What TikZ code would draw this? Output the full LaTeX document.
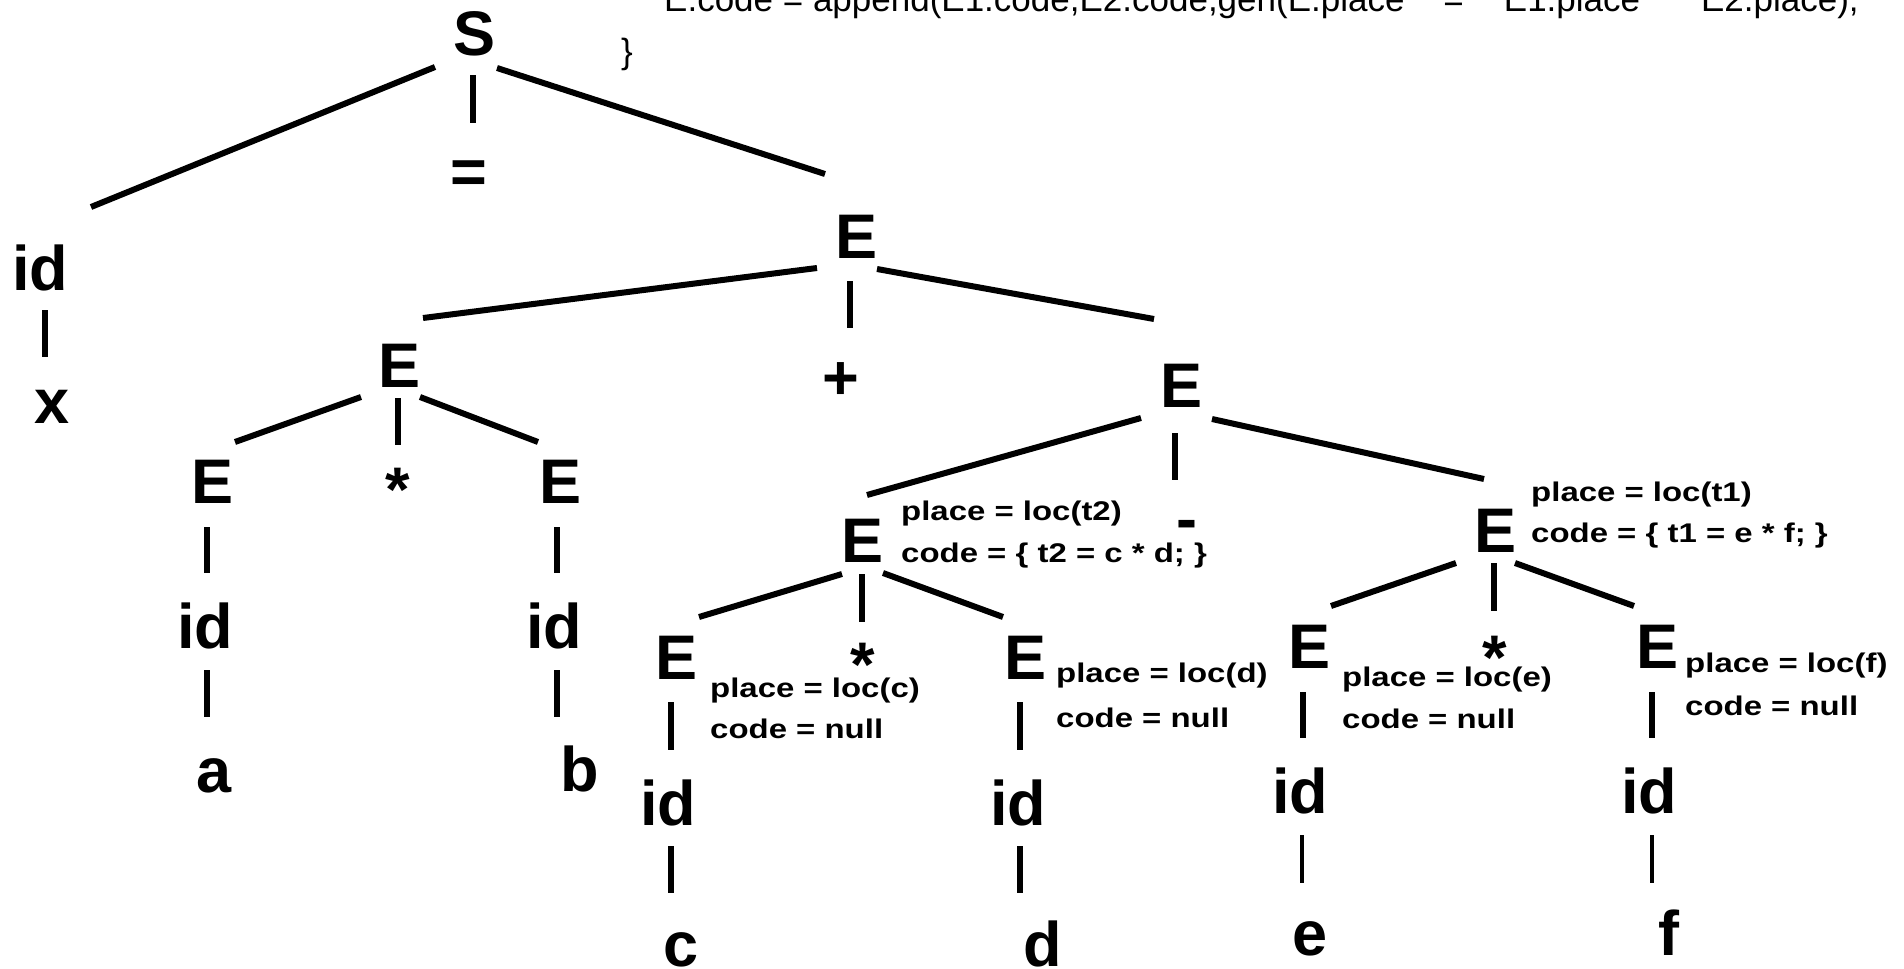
\documentclass[tikz,border=0pt]{standalone}
\usepackage{fontspec}
\setmainfont{Liberation Sans}
\newfontfamily\lblfont[FakeStretch=1.22]{Liberation Sans}
\usetikzlibrary{calc}
\tikzset{
  sym/.style={anchor=base, inner sep=0pt, font=\bfseries\fontsize{63}{63}\selectfont},
  lbl/.style={anchor=base west, inner sep=0pt, font=\lblfont\bfseries\fontsize{27}{27}\selectfont},
  toptxt/.style={anchor=base west, inner sep=0pt, font=\fontsize{35}{35}\selectfont},
  edge/.style={line width=6pt, line cap=butt, black},
  thinedge/.style={line width=4.5pt, line cap=butt, black}
}
\newcommand\lnk[5][edge]{\draw[#1] ($(#2.base)+(#3)$) -- ($(#4.base)+(#5)$);}
\begin{document}
\begin{tikzpicture}[x=1pt,y=-1pt]
\useasboundingbox (0,0) rectangle (1904,969);
% top text
\node[toptxt] (code) at (664,12) {E.code = append(E1.code,E2.code,gen(E.place\hspace{39pt}=\hspace{40pt}E1.place\hspace{61pt}E2.place);};
\node[anchor=base, inner sep=0pt, font=\fontsize{35}{35}\selectfont] (brace) at (627,63) {\}};
% tree nodes
\node[sym] (S) at (475,55) {S};
\node[sym] (eq) at (469,193) {=};
\node[sym] (id0) at (40,290) {id};
\node[sym] (x0) at (52,423) {x};
\node[sym] (E1) at (857,258) {E};
\node[sym] (plus) at (841,399) {+};
\node[sym] (E2) at (400,387) {E};
\node[sym] (E3) at (213,503) {E};
\node[sym] (st1) at (398,511) {*};
\node[sym] (E4) at (561,503) {E};
\node[sym] (idA) at (205,648) {id};
\node[sym] (a) at (214,792) {a};
\node[sym] (idB) at (554,648) {id};
\node[sym] (b) at (580,791) {b};
\node[sym] (E5) at (1181,407) {E};
\node[sym] (minus) at (1187,540) {-};
\node[sym] (E6) at (863,562) {E};
\node[sym] (E7) at (1495,552) {E};
\node[sym] (Ec) at (677,679) {E};
\node[sym] (st2) at (863,686) {*};
\node[sym] (Ed) at (1025,679) {E};
\node[sym] (idC) at (668,825) {id};
\node[sym] (c) at (681,966) {c};
\node[sym] (idD) at (1018,825) {id};
\node[sym] (d) at (1043,966) {d};
\node[sym] (Ee) at (1309,668) {E};
\node[sym] (st3) at (1495,679) {*};
\node[sym] (Ef) at (1657,668) {E};
\node[sym] (idE) at (1300,813) {id};
\node[sym] (e) at (1310,955) {e};
\node[sym] (idF) at (1649,813) {id};
\node[sym] (f) at (1669,955) {f};
% attribute labels
\node[lbl] (p6) at (901,520) {place = loc(t2)};
\node[lbl] (c6) at (901,562) {code = \{ t2 = c * d; \}};
\node[lbl] (p7) at (1531,501) {place = loc(t1)};
\node[lbl] (c7) at (1531,542) {code = \{ t1 = e * f; \}};
\node[lbl] (pc) at (710,697) {place = loc(c)};
\node[lbl] (cc) at (710,738) {code = null};
\node[lbl] (pd) at (1056,682) {place = loc(d)};
\node[lbl] (cd) at (1056,727) {code = null};
\node[lbl] (pe) at (1342,686) {place = loc(e)};
\node[lbl] (ce) at (1342,728) {code = null};
\node[lbl] (pf) at (1685,672) {place = loc(f)};
\node[lbl] (cf) at (1685,715) {code = null};
% connectors
\lnk{S}{-40,12}{id0}{51,-83}
\lnk{S}{-2,20}{eq}{4,-70}
\lnk{S}{22,13}{E1}{-32,-84}
\lnk{id0}{5,20}{x0}{-7,-66}
\lnk{E1}{-40,10}{E2}{23,-69}
\lnk{E1}{-7,23}{plus}{9,-71}
\lnk{E1}{20,11}{E5}{-27,-88}
\lnk{E2}{-39,10}{E3}{22,-61}
\lnk{E2}{-2,11}{st1}{0,-66}
\lnk{E2}{20,10}{E4}{-23,-61}
\lnk{E3}{-6,24}{idA}{2,-75}
\lnk{idA}{2,22}{a}{-7,-75}
\lnk{E4}{-4,24}{idB}{3,-75}
\lnk{idB}{3,22}{b}{-23,-74}
\lnk{E5}{-40,11}{E6}{4,-67}
\lnk{E5}{-6,26}{minus}{-12,-60}
\lnk{E5}{31,12}{E7}{-11,-73}
\lnk{E6}{-21,12}{Ec}{22,-62}
\lnk{E6}{-1,12}{st2}{-1,-64}
\lnk{E6}{20,11}{Ed}{-22,-62}
\lnk{E7}{-39,11}{Ee}{22,-62}
\lnk{E7}{-1,11}{st3}{-1,-68}
\lnk{E7}{20,11}{Ef}{-23,-62}
\lnk{Ec}{-6,23}{idC}{3,-75}
\lnk{idC}{3,21}{c}{-10,-73}
\lnk{Ed}{-5,23}{idD}{2,-75}
\lnk{idD}{2,21}{d}{-23,-73}
\lnk{Ee}{-6,24}{idE}{3,-75}
\lnk[thinedge]{idE}{2,22}{e}{-8,-72}
\lnk{Ef}{-5,24}{idF}{3,-75}
\lnk[thinedge]{idF}{3,22}{f}{-17,-72}
\end{tikzpicture}
\end{document}
